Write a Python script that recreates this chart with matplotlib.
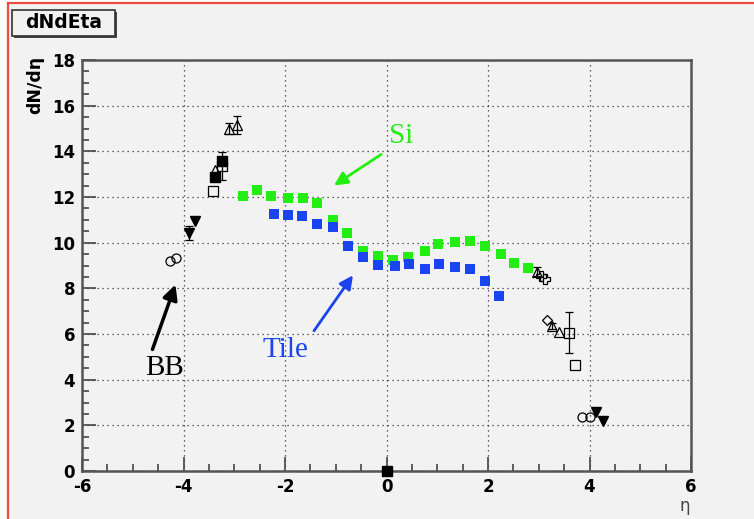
import numpy as np
import matplotlib
matplotlib.use("Agg")
import matplotlib.pyplot as plt
from matplotlib.patches import Rectangle
from matplotlib.lines import Line2D
from matplotlib.ticker import MultipleLocator

plt.rcParams["axes.unicode_minus"] = False

# ── Data ──────────────────────────────────────────────────────────────────────
si_eta = [-2.82, -2.56, -2.27, -1.95, -1.65, -1.36, -1.06, -0.77, -0.47, -0.16,
          0.12, 0.43, 0.75, 1.02, 1.34, 1.64, 1.95, 2.25, 2.52, 2.78]
si_dn = [12.05, 12.31, 12.05, 11.96, 11.96, 11.74, 10.99, 10.42, 9.64, 9.42,
         9.24, 9.37, 9.64, 9.94, 10.03, 10.07, 9.86, 9.50, 9.11, 8.89]

tile_eta = [-2.21, -1.95, -1.66, -1.36, -1.06, -0.75, -0.47, -0.16, 0.16, 0.45,
            0.75, 1.04, 1.34, 1.64, 1.95, 2.21]
tile_dn = [11.26, 11.21, 11.17, 10.82, 10.69, 9.86, 9.37, 9.02, 8.98, 9.07,
           8.85, 9.07, 8.94, 8.85, 8.32, 7.67]

# BB open circles
bb_circ_eta = [-4.26, -4.14, 3.86, 4.00]
bb_circ_dn = [9.20, 9.33, 2.37, 2.37]
# filled down triangles
tri_dn_eta = [-3.90, -3.78, 4.12, 4.26]
tri_dn_val = [10.42, 10.95, 2.58, 2.19]
tri_dn_err = [0.30, 0.0, 0.0, 0.0]
# open squares
osq_eta = [-3.41, -3.25, 3.59, 3.72]
osq_val = [12.26, 13.36, 6.05, 4.64]
osq_err = [0.0, 0.60, 0.90, 0.0]
# filled squares
fsq_eta = [-3.37, -3.25, 0.0]
fsq_val = [12.88, 13.58, 0.0]
# open triangles
otri_eta = [-3.37, -3.11, -2.94, 2.96, 3.27, 3.40]
otri_val = [13.20, 15.00, 15.15, 8.72, 6.35, 6.10]
otri_err = [0.0, 0.25, 0.40, 0.20, 0.15, 0.0]
# open crosses
cross_eta = [3.05, 3.12]
cross_val = [8.55, 8.40]
# open diamonds
dia_eta = [3.17]
dia_val = [6.60]


def bars(ax, xs, ys, errs):
    # error bars only where an error exists
    pts = [(x, y, e) for x, y, e in zip(xs, ys, errs) if e > 0]
    if pts:
        px, py, pe = zip(*pts)
        ax.errorbar(px, py, yerr=pe, fmt="none", ecolor="black",
                    capsize=3, elinewidth=0.9, capthick=0.9, zorder=5)


# ── Figure ────────────────────────────────────────────────────────────────────
BG = "#f2f2f2"
RED = "#f04a3e"
fig = plt.figure(figsize=(7.54, 5.19), dpi=100)
fig.patch.set_facecolor("white")
x0, y0 = 8 / 754, 1 - 2.5 / 519
fig.patches.append(Rectangle((x0, 0), 1.0, y0, transform=fig.transFigure,
                             facecolor=BG, edgecolor="none", zorder=-10))
fig.lines.append(Line2D([x0, x0], [0, y0], transform=fig.transFigure, color=RED, lw=1.6))
fig.lines.append(Line2D([x0, 1], [y0, y0], transform=fig.transFigure, color=RED, lw=1.6))

ax = fig.add_axes([82 / 754, 1 - 471 / 519, 609 / 754, 411 / 519])
ax.set_facecolor(BG)
ax.set_xlim(-6, 6)
ax.set_ylim(0, 18)

for s in ax.spines.values():
    s.set_color("#555555")
    s.set_linewidth(1.8)

ax.xaxis.set_major_locator(MultipleLocator(2))
ax.xaxis.set_minor_locator(MultipleLocator(0.5))
ax.yaxis.set_major_locator(MultipleLocator(2))
ax.yaxis.set_minor_locator(MultipleLocator(0.5))
ax.tick_params(which="both", direction="in", color="#444444", width=1.2)
ax.tick_params(which="major", length=10)
ax.tick_params(which="minor", length=5)
ax.tick_params(labelsize=12, pad=5)
for lab in ax.get_xticklabels() + ax.get_yticklabels():
    lab.set_fontweight("bold")
ax.grid(True, which="major", linestyle=(0, (1, 3)), color="#333333", linewidth=0.9)
ax.set_axisbelow(True)

# ── Points ────────────────────────────────────────────────────────────────────
ax.plot(si_eta, si_dn, "s", color="#22ee11", markersize=7.5, markeredgewidth=0, zorder=3)
ax.plot(tile_eta, tile_dn, "s", color="#1a44f0", markersize=7.5, markeredgewidth=0, zorder=4)

bars(ax, tri_dn_eta, tri_dn_val, tri_dn_err)
bars(ax, osq_eta, osq_val, osq_err)
bars(ax, otri_eta, otri_val, otri_err)

ax.plot(bb_circ_eta, bb_circ_dn, "o", mfc="none", mec="black", markersize=6.5, mew=0.9, zorder=6)
ax.plot(tri_dn_eta, tri_dn_val, "v", color="black", markersize=6.5, zorder=6)
ax.plot(osq_eta, osq_val, "s", mfc="none", mec="black", markersize=7, mew=0.9, zorder=6)
ax.plot(fsq_eta, fsq_val, "s", color="black", markersize=6.5, zorder=6, clip_on=False)
ax.plot(otri_eta, otri_val, "^", mfc="none", mec="black", markersize=7, mew=0.9, zorder=6)
ax.plot(cross_eta, cross_val, "P", mfc="none", mec="black", markersize=7.5, mew=0.9, zorder=6)
ax.plot(dia_eta, dia_val, "D", mfc="none", mec="black", markersize=5.5, mew=0.9, zorder=6)

# ── Annotations ───────────────────────────────────────────────────────────────
ax.annotate("", xy=(-1.08, 12.44), xytext=(-0.06, 13.93),
            arrowprops=dict(arrowstyle="-|>", color="#22ee11", lw=2, mutation_scale=20))
ax.text(0.28, 14.65, "Si", color="#22ee11", fontsize=21, family="Liberation Serif",
        ha="center", va="center")
ax.annotate("", xy=(-0.63, 8.67), xytext=(-1.46, 6.04),
            arrowprops=dict(arrowstyle="-|>", color="#1a44f0", lw=2, mutation_scale=20))
ax.text(-2.0, 5.3, "Tile", color="#1a44f0", fontsize=21, family="Liberation Serif",
        ha="center", va="center")
ax.annotate("", xy=(-4.14, 8.28), xytext=(-4.63, 5.21),
            arrowprops=dict(arrowstyle="-|>", color="black", lw=2.5, mutation_scale=22))
ax.text(-4.37, 4.5, "BB", color="black", fontsize=21, family="Liberation Serif",
        ha="center", va="center")

# ── Labels ────────────────────────────────────────────────────────────────────
fig.text(35 / 754, 1 - 85 / 519, "dN/dη", rotation=90, fontsize=12.5, fontweight="bold",
         ha="center", va="center")
fig.text(685 / 754, 1 - 506 / 519, "η", fontsize=12, ha="center", va="center", color="#444444")

# title box with a small shadow
fig.patches.append(Rectangle((14 / 754, 1 - 38 / 519), 103 / 754, 26 / 519, transform=fig.transFigure,
                             facecolor="#444444", edgecolor="none", zorder=1))
fig.patches.append(Rectangle((12 / 754, 1 - 36 / 519), 103 / 754, 26 / 519, transform=fig.transFigure,
                             facecolor=BG, edgecolor="#333333", linewidth=1.2, zorder=2))
fig.text(63.5 / 754, 1 - 23 / 519, "dNdEta", fontsize=13.5, fontweight="bold",
         ha="center", va="center", zorder=3)

fig.savefig("out.png", dpi=100, facecolor=fig.get_facecolor())
